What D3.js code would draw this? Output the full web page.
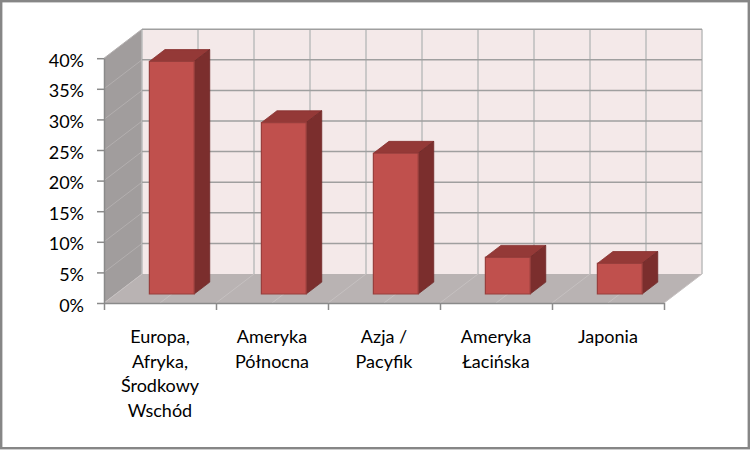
<!DOCTYPE html>
<html lang="pl">
<head>
    <meta charset="UTF-8">
    <title>Udział regionów</title>
    <style>
        body { margin: 0; background: #fff; }
        text { font-family: Lato, "Open Sans", sans-serif; fill: #000; }
    </style>
</head>
<body>
    <div id="chart"></div>

    <script src="https://cdnjs.cloudflare.com/ajax/libs/d3/7.8.5/d3.min.js"></script>
    <script>
        // chart data
        var categories = ["Europa,\nAfryka,\nŚrodkowy\nWschód", "Ameryka\nPółnocna", "Azja /\nPacyfik", "Ameryka\nŁacińska", "Japonia"];
        var values = [0.38, 0.28, 0.23, 0.06, 0.05];
        var yTicks = [0, 0.05, 0.10, 0.15, 0.20, 0.25, 0.30, 0.35, 0.40];

        var width = 753,
            height = 451;
        // oblique depth offset of the 3D box
        var depthX = 38,
            depthY = -29;
        var left = 104, right = 664;

        var svg = d3.select("#chart")
            .append("svg")
            .attr("width", width)
            .attr("height", height);

        var x = d3.scaleBand()
            .domain(categories)
            .range([left, right])
            .paddingInner(0.6)
            .paddingOuter(0.3);

        var xBound = d3.scaleLinear()
            .domain([0, categories.length])
            .range([left, right]);

        var y = d3.scaleLinear()
            .domain([0, 0.40])
            .range([303, 58.2]);

        // project a point: horizontal px, depth 0..1, value
        function P(px, t, v) {
            return [px + depthX * t, y(v) + depthY * t];
        }
        function poly(pts) {
            return pts.map(function (p) { return p.join(","); }).join(" ");
        }

        var yMax = d3.max(yTicks);

        // walls and floor
        svg.append("polygon")
            .attr("points", poly([P(left, 1, 0), P(right, 1, 0), P(right, 1, yMax), P(left, 1, yMax)]))
            .attr("fill", "#f4e9e9");
        svg.append("polygon")
            .attr("points", poly([P(left, 0, 0), P(left, 0, yMax), P(left, 1, yMax), P(left, 1, 0)]))
            .attr("fill", "#a19d9d");
        svg.append("polygon")
            .attr("points", poly([P(left, 0, 0), P(right, 0, 0), P(right, 1, 0), P(left, 1, 0)]))
            .attr("fill", "#b9b3b3");

        // half-category positions for the vertical gridlines
        var halfSteps = d3.range(0, categories.length * 2 + 1).map(function (i) { return i / 2; });

        svg.selectAll(".floorline")
            .data(halfSteps)
            .join("line")
            .attr("x1", function (d) { return P(xBound(d), 0, 0)[0]; })
            .attr("y1", function (d) { return P(xBound(d), 0, 0)[1]; })
            .attr("x2", function (d) { return P(xBound(d), 1, 0)[0]; })
            .attr("y2", function (d) { return P(xBound(d), 1, 0)[1]; })
            .attr("stroke", "#c6c1c1")
            .attr("stroke-width", 1);

        svg.selectAll(".sideline")
            .data(yTicks.slice(1))
            .join("line")
            .attr("x1", function (d) { return P(left, 0, d)[0]; })
            .attr("y1", function (d) { return P(left, 0, d)[1]; })
            .attr("x2", function (d) { return P(left, 1, d)[0]; })
            .attr("y2", function (d) { return P(left, 1, d)[1]; })
            .attr("stroke", "#b3afaf")
            .attr("stroke-width", 1);

        svg.selectAll(".vgrid")
            .data(halfSteps)
            .join("line")
            .attr("x1", function (d) { return P(xBound(d), 1, 0)[0]; })
            .attr("y1", function (d) { return P(xBound(d), 1, 0)[1]; })
            .attr("x2", function (d) { return P(xBound(d), 1, yMax)[0]; })
            .attr("y2", function (d) { return P(xBound(d), 1, yMax)[1]; })
            .attr("stroke", "#bcbcbc")
            .attr("stroke-width", 1.5);

        svg.selectAll(".hgrid")
            .data(yTicks.slice(1))
            .join("line")
            .attr("x1", function (d) { return P(left, 1, d)[0]; })
            .attr("y1", function (d) { return P(left, 1, d)[1]; })
            .attr("x2", function (d) { return P(right, 1, d)[0]; })
            .attr("y2", function (d) { return P(right, 1, d)[1]; })
            .attr("stroke", "#9f9f9f")
            .attr("stroke-width", 1.5);

        // axes
        var yAxis = svg.append("g")
            .attr("transform", "translate(" + left + ",0)")
            .call(d3.axisLeft(y)
                .tickValues(yTicks)
                .tickFormat(d3.format(".0%"))
                .tickSize(7)
                .tickSizeOuter(0)
                .tickPadding(13));

        var xAxis = svg.append("g")
            .attr("transform", "translate(0," + y(0) + ")")
            .call(d3.axisBottom(xBound)
                .tickValues(d3.range(0, categories.length + 1))
                .tickFormat("")
                .tickSize(7)
                .tickSizeOuter(0));

        svg.selectAll(".domain, .tick line")
            .attr("stroke", "#8a8a8a")
            .attr("stroke-width", 1.5);
        yAxis.selectAll("text")
            .attr("dy", null)
            .attr("y", 8)
            .style("font-size", "18px")
            .style("font-family", "Lato, sans-serif")
            .attr("fill", "#000");

        // category labels
        var labels = svg.selectAll(".catlabel")
            .data(categories)
            .join("text")
            .attr("class", "catlabel")
            .attr("text-anchor", "middle")
            .style("font-size", "18px");
        labels.each(function (d) {
            var cx = x(d) + x.bandwidth() / 2;
            d3.select(this).selectAll("tspan")
                .data(d.split("\n"))
                .join("tspan")
                .attr("x", cx)
                .attr("y", function (l, i) { return 343 + i * 24.7; })
                .text(function (l) { return l; });
        });

        // bars
        var t0 = 0.31, t1 = 0.72;
        var bars = svg.selectAll(".bar")
            .data(values.map(function (v, i) { return { cat: categories[i], value: v }; }))
            .join("g")
            .attr("class", "bar");

        bars.append("polygon")
            .attr("points", function (d) {
                var x0 = x(d.cat), x1 = x0 + x.bandwidth();
                return poly([P(x0, t0, d.value), P(x1, t0, d.value), P(x1, t1, d.value), P(x0, t1, d.value)]);
            })
            .attr("fill", "#943937")
            .attr("stroke", "#86302e")
            .attr("stroke-width", 0.8);

        bars.append("polygon")
            .attr("points", function (d) {
                var x1 = x(d.cat) + x.bandwidth();
                return poly([P(x1, t0, 0), P(x1, t1, 0), P(x1, t1, d.value), P(x1, t0, d.value)]);
            })
            .attr("fill", "#7b2e2d")
            .attr("stroke", "#6f2928")
            .attr("stroke-width", 0.8);

        bars.append("polygon")
            .attr("points", function (d) {
                var x0 = x(d.cat), x1 = x0 + x.bandwidth();
                return poly([P(x0, t0, 0), P(x1, t0, 0), P(x1, t0, d.value), P(x0, t0, d.value)]);
            })
            .attr("fill", "#c0504d")
            .attr("stroke", "#983e3c")
            .attr("stroke-width", 1.2);

        // chart border
        svg.append("rect")
            .attr("x", 1.2)
            .attr("y", 1.2)
            .attr("width", 747.6)
            .attr("height", 447)
            .attr("fill", "none")
            .attr("stroke", "#868686")
            .attr("stroke-width", 2.4);
    </script>
</body>
</html>
